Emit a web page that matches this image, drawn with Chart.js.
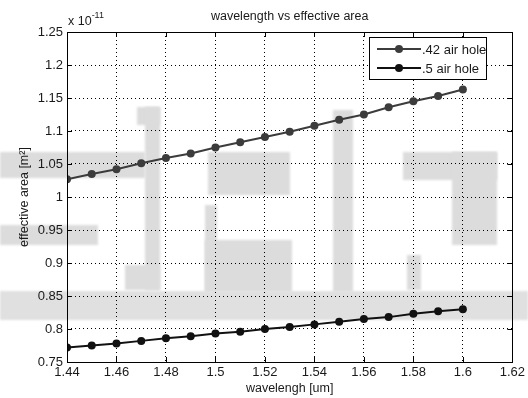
<!DOCTYPE html>
<html>
<head>
<meta charset="utf-8">
<title>wavelength vs effective area</title>
<script src="https://cdn.jsdelivr.net/npm/chart.js@4.4.1/dist/chart.umd.min.js"></script>
<style>
  html, body { margin: 0; padding: 0; background: #fff; }
  canvas { display: block; }
</style>
</head>
<body>
<canvas id="areaChart" width="528" height="398"></canvas>
<script>
// wavelength in um, effective area in units of 1e-11 m^2
const wavelength = [1.44, 1.45, 1.46, 1.47, 1.48, 1.49, 1.50, 1.51, 1.52, 1.53, 1.54, 1.55, 1.56, 1.57, 1.58, 1.59, 1.60];
const area42 = [1.027, 1.035, 1.042, 1.051, 1.059, 1.066, 1.075, 1.083, 1.091, 1.099, 1.108, 1.117, 1.125, 1.136, 1.145, 1.153, 1.163];
const area50 = [0.772, 0.775, 0.778, 0.782, 0.786, 0.789, 0.793, 0.796, 0.800, 0.803, 0.807, 0.811, 0.815, 0.818, 0.823, 0.827, 0.830];

const xTicks = [1.44, 1.46, 1.48, 1.50, 1.52, 1.54, 1.56, 1.58, 1.60, 1.62];
const xTickLabels = ['1.44', '1.46', '1.48', '1.5', '1.52', '1.54', '1.56', '1.58', '1.6', '1.62'];
const yTicks = [0.75, 0.80, 0.85, 0.90, 0.95, 1.00, 1.05, 1.10, 1.15, 1.20, 1.25];
const yTickLabels = ['0.75', '0.8', '0.85', '0.9', '0.95', '1', '1.05', '1.1', '1.15', '1.2', '1.25'];

const FONT = '"Liberation Sans", Arial, Helvetica, sans-serif';
const INK = '#1a1a1a';

// light grey shapes lying behind the axes
const backdrop = {
  id: 'backdrop',
  beforeDraw(chart) {
    const ctx = chart.ctx;
    ctx.save();
    ctx.fillStyle = '#fff';
    ctx.fillRect(0, 0, chart.width, chart.height);
    ctx.filter = 'blur(1px)';
    ctx.fillStyle = '#dcdcdc';
    const shapes = [
      [0, 152, 145, 178], [0, 225, 98, 245],
      [137, 107, 160, 125], [145, 107, 160, 290], [125, 265, 160, 290],
      [208, 152, 290, 195], [205, 205, 217, 292], [205, 240, 292, 292],
      [333, 110, 353, 292],
      [403, 152, 497, 180], [452, 152, 497, 245], [407, 255, 421, 290]
    ];
    shapes.forEach(([x0, y0, x1, y1]) => ctx.fillRect(x0, y0, x1 - x0, y1 - y0));
    ctx.fillStyle = '#e0e0e0';
    ctx.fillRect(0, 291, chart.width, 29);
    ctx.restore();
  }
};

// box, inward ticks, title, exponent and legend
const frame = {
  id: 'frame',
  afterDraw(chart) {
    const ctx = chart.ctx;
    const { left, right, top, bottom } = chart.chartArea;
    const xs = chart.scales.x, ys = chart.scales.y;
    ctx.save();
    ctx.strokeStyle = '#000';
    ctx.lineWidth = 1;
    ctx.setLineDash([]);
    ctx.strokeRect(Math.round(left) + 0.5, Math.round(top) + 0.5, Math.round(right - left), Math.round(bottom - top));

    const len = 5;
    ctx.beginPath();
    xTicks.forEach(v => {
      const x = Math.round(xs.getPixelForValue(v)) + 0.5;
      ctx.moveTo(x, bottom); ctx.lineTo(x, bottom - len);
      ctx.moveTo(x, top); ctx.lineTo(x, top + len);
    });
    yTicks.forEach(v => {
      const y = Math.round(ys.getPixelForValue(v)) + 0.5;
      ctx.moveTo(left, y); ctx.lineTo(left + len, y);
      ctx.moveTo(right, y); ctx.lineTo(right - len, y);
    });
    ctx.stroke();

    // title
    ctx.fillStyle = INK;
    ctx.font = '12.5px ' + FONT;
    ctx.textAlign = 'center';
    ctx.textBaseline = 'middle';
    ctx.fillText('wavelength vs effective area', (left + right) / 2, 17);

    // axis multiplier
    ctx.textAlign = 'left';
    ctx.textBaseline = 'alphabetic';
    ctx.font = '12.5px ' + FONT;
    ctx.fillText('x 10', left + 1, 25);
    const w = ctx.measureText('x 10').width;
    ctx.font = '9px ' + FONT;
    ctx.fillText('-11', left + 1 + w, 18);

    // legend
    const lx = 369, ly = 37, lw = 117, lh = 42;
    ctx.fillStyle = '#fff';
    ctx.fillRect(lx, ly, lw, lh);
    ctx.strokeStyle = '#000';
    ctx.strokeRect(lx + 0.5, ly + 0.5, lw, lh);
    chart.data.datasets.forEach((ds, i) => {
      const cy = ly + 12 + i * 19;
      ctx.strokeStyle = ds.borderColor;
      ctx.lineWidth = ds.borderWidth;
      ctx.beginPath();
      ctx.moveTo(lx + 8, cy); ctx.lineTo(lx + 52, cy);
      ctx.stroke();
      ctx.fillStyle = ds.pointBackgroundColor;
      ctx.beginPath();
      ctx.arc(lx + 30, cy, ds.pointRadius, 0, Math.PI * 2);
      ctx.fill();
      ctx.fillStyle = INK;
      ctx.font = '13px ' + FONT;
      ctx.textBaseline = 'middle';
      ctx.fillText(ds.label, lx + 53, cy + 1);
    });
    ctx.restore();
  }
};

new Chart(document.getElementById('areaChart').getContext('2d'), {
  type: 'line',
  data: {
    datasets: [
      {
        label: '.42 air hole',
        data: wavelength.map((x, i) => ({ x: x, y: area42[i] })),
        borderColor: '#3c3c3c',
        backgroundColor: '#3c3c3c',
        pointBackgroundColor: '#3c3c3c',
        borderWidth: 2,
        pointRadius: 4,
        pointBorderWidth: 0,
        tension: 0
      },
      {
        label: '.5 air hole',
        data: wavelength.map((x, i) => ({ x: x, y: area50[i] })),
        borderColor: '#111',
        backgroundColor: '#111',
        pointBackgroundColor: '#111',
        borderWidth: 2,
        pointRadius: 4,
        pointBorderWidth: 0,
        tension: 0
      }
    ]
  },
  options: {
    responsive: false,
    animation: false,
    layout: { padding: { top: 32, right: 14, left: 0, bottom: 0 } },
    plugins: {
      legend: { display: false },
      title: { display: false },
      tooltip: { enabled: false }
    },
    scales: {
      x: {
        type: 'linear',
        min: 1.44,
        max: 1.62,
        afterBuildTicks: s => { s.ticks = xTicks.map(v => ({ value: v })); },
        afterFit: s => { s.height = 36; },
        ticks: {
          color: INK,
          font: { family: FONT, size: 13 },
          padding: 3,
          maxRotation: 0,
          callback: (v, i) => xTickLabels[i]
        },
        grid: { color: '#000', lineWidth: 1, drawTicks: false },
        border: { display: false, dash: [1, 3] },
        title: {
          display: true,
          text: 'wavelengh [um]',
          color: INK,
          font: { family: FONT, size: 12.5 },
          padding: { top: 0, bottom: 2 }
        }
      },
      y: {
        type: 'linear',
        min: 0.75,
        max: 1.25,
        afterBuildTicks: s => { s.ticks = yTicks.map(v => ({ value: v })); },
        afterFit: s => { s.width = 67; },
        ticks: {
          color: INK,
          font: { family: FONT, size: 13 },
          padding: 4,
          callback: (v, i) => yTickLabels[i]
        },
        grid: { color: '#000', lineWidth: 1, drawTicks: false },
        border: { display: false, dash: [1, 3] },
        title: {
          display: true,
          text: 'effective area [m²]',
          color: INK,
          font: { family: FONT, size: 12.5 },
          padding: { top: 17, bottom: 0 }
        }
      }
    }
  },
  plugins: [backdrop, frame]
});
</script>
</body>
</html>
